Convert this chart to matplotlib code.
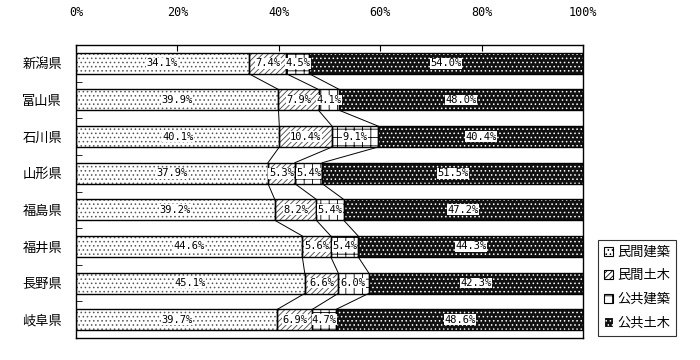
import matplotlib
matplotlib.use("Agg")
import matplotlib.pyplot as plt
import numpy as np
from matplotlib.patches import Patch

plt.rcParams['font.family'] = ['Noto Sans CJK JP', 'DejaVu Sans']
plt.rcParams['hatch.linewidth'] = 0.6

prefectures = ["新潟県", "富山県", "石川県", "山形県", "福島県", "福井県", "長野県", "岐阜県"]
series_names = ["民間建築", "民間土木", "公共建築", "公共土木"]
private_building = [34.1, 39.9, 40.1, 37.9, 39.2, 44.6, 45.1, 39.7]
private_civil = [7.4, 7.9, 10.4, 5.3, 8.2, 5.6, 6.6, 6.9]
public_building = [4.5, 4.1, 9.1, 5.4, 5.4, 5.4, 6.0, 4.7]
public_civil = [54.0, 48.0, 40.4, 51.5, 47.2, 44.3, 42.3, 48.6]
x_ticks = [0, 20, 40, 60, 80, 100]
x_ticklabels = ["0%", "20%", "40%", "60%", "80%", "100%"]

data = np.array([private_building, private_civil, public_building, public_civil])
totals = data.sum(axis=0)
shares = data / totals * 100

styles = [
    dict(facecolor="white", edgecolor="#555555", hatch="...."),
    dict(facecolor="white", edgecolor="#444444", hatch="//////"),
    dict(facecolor="white", edgecolor="black", hatch="++"),
    dict(facecolor="#111111", edgecolor="white", hatch="...."),
]

fig = plt.figure(figsize=(7, 3.6), dpi=100)
ax = fig.add_axes([76/700, 1-338/360, (583-76)/700, (338-45)/360])

y = np.arange(len(prefectures))
h = 0.57
left = np.zeros(len(prefectures))
for i in range(4):
    st = styles[i]
    ax.barh(y, shares[i], left=left, height=h, color=st["facecolor"],
            edgecolor=st["edgecolor"], hatch=st["hatch"], linewidth=0, zorder=2)
    ax.barh(y, shares[i], left=left, height=h, fill=False,
            edgecolor="black", linewidth=1.0, zorder=3)
    for j in range(len(prefectures)):
        cx = left[j] + shares[i][j] / 2
        ax.text(cx, y[j], f"{data[i][j]:.1f}%", ha="center", va="center",
                fontsize=7.5, family=["DejaVu Sans Mono"], zorder=5,
                bbox=dict(facecolor="white", edgecolor="none", pad=0.3))
    left = left + shares[i]

# series lines
cum = np.cumsum(shares, axis=0)
for k in range(3):
    for j in range(len(prefectures) - 1):
        ax.plot([cum[k][j], cum[k][j+1]], [y[j] + h/2, y[j+1] - h/2],
                color="black", linewidth=0.7, zorder=4)

ax.set_xlim(0, 100)
ax.set_ylim(len(prefectures) - 0.5, -0.5)
ax.set_xticks(x_ticks)
ax.set_xticklabels(x_ticklabels, fontsize=8.5, family=["DejaVu Sans Mono"])
ax.xaxis.tick_top()
ax.tick_params(axis="x", direction="in", length=4, pad=19, top=True, bottom=False)
ax.set_yticks(y)
ax.set_yticklabels(prefectures, fontsize=9.5)
ax.tick_params(axis="y", length=0, pad=10)
ax.set_yticks(np.arange(0.5, len(prefectures) - 0.5, 1), minor=True)
ax.tick_params(axis="y", which="minor", direction="in", length=4)
for s in ax.spines.values():
    s.set_linewidth(1.0)

handles = [Patch(facecolor=st["facecolor"], edgecolor=st["edgecolor"] if i == 3 else "black",
                 hatch=st["hatch"], linewidth=0.8) for i, st in enumerate(styles)]
leg = fig.legend(handles, series_names, loc="upper left",
                 bbox_to_anchor=(598/700, 1-240/360), frameon=True, fancybox=False,
                 edgecolor="black", fontsize=9.5, handlelength=0.7, handleheight=0.7,
                 handletextpad=0.3, labelspacing=0.8, borderpad=0.45, borderaxespad=0)
leg.get_frame().set_linewidth(0.8)

fig.savefig("out.png", dpi=100)
